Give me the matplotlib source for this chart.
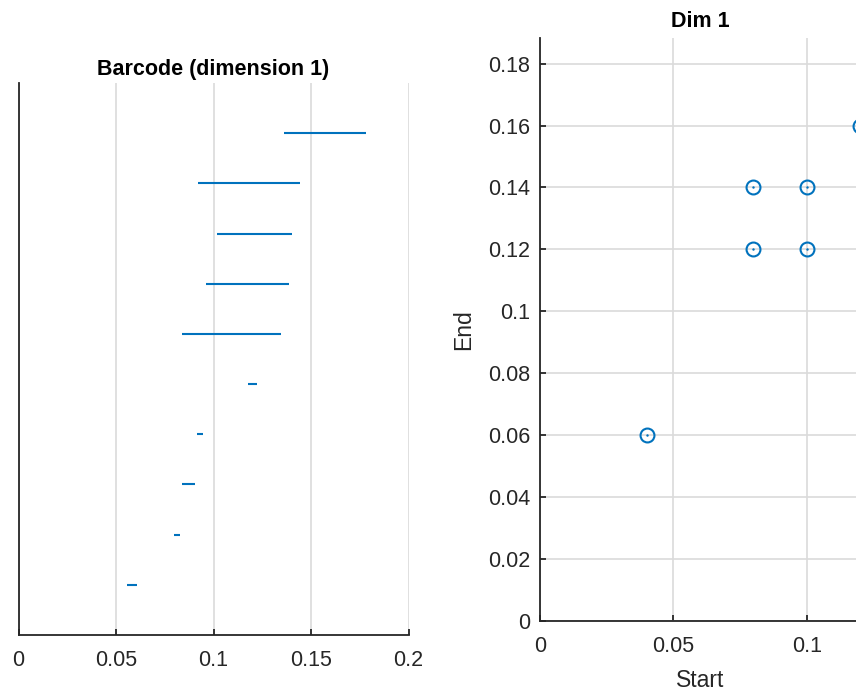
import matplotlib
matplotlib.use("Agg")
import matplotlib.pyplot as plt

plt.rcParams['font.family'] = ['Liberation Sans', 'DejaVu Sans']

# Barcode intervals (listed top to bottom)
bar_starts = [0.136, 0.092, 0.102, 0.096, 0.084, 0.1175, 0.0915, 0.084, 0.0797, 0.0556]
bar_ends   = [0.178, 0.1445, 0.1405, 0.1385, 0.1345, 0.1225, 0.0945, 0.0905, 0.0826, 0.0606]

# Persistence diagram points
pd_start = [0.04, 0.08, 0.08, 0.10, 0.10, 0.12]
pd_end   = [0.06, 0.12, 0.14, 0.12, 0.14, 0.16]

xticks_left = [0, 0.05, 0.1, 0.15, 0.2]
xtick_labels_left = ['0', '0.05', '0.1', '0.15', '0.2']
xticks_right = [0, 0.05, 0.1]
xtick_labels_right = ['0', '0.05', '0.1']
yticks_right = [0, 0.02, 0.04, 0.06, 0.08, 0.1, 0.12, 0.14, 0.16, 0.18]
ytick_labels_right = ['0', '0.02', '0.04', '0.06', '0.08', '0.1', '0.12', '0.14', '0.16', '0.18']

BLUE = '#0072BD'
AXC = '#262626'
GRID = '#dadada'
FS = 15.5

W, H = 856, 694
fig = plt.figure(figsize=(W / 100, H / 100), dpi=100)

# Left: barcode
ax1 = fig.add_axes([18.5 / W, (H - 635) / H, 390 / W, (635 - 83) / H])
n = len(bar_starts)
for i, (s, e) in enumerate(zip(bar_starts, bar_ends)):
    y = n - i
    ax1.plot([s, e], [y, y], color=BLUE, lw=1.5, solid_capstyle='butt')
ax1.set_xlim(0, 0.2)
ax1.set_ylim(0, n + 1)
ax1.set_xticks(xticks_left)
ax1.set_xticklabels(xtick_labels_left)
ax1.set_yticks([])
ax1.grid(axis='x', color=GRID, lw=1.2)
ax1.set_axisbelow(True)
for sp in ['top', 'right']:
    ax1.spines[sp].set_visible(False)
for sp in ['left', 'bottom']:
    ax1.spines[sp].set_color(AXC)
    ax1.spines[sp].set_linewidth(1.3)
ax1.tick_params(axis='x', direction='in', length=4, width=1.3, color=AXC,
                labelsize=FS, labelcolor=AXC, pad=11)
ax1.set_title('Barcode (dimension 1)', fontsize=FS, fontweight='bold', pad=6)

# Right: persistence diagram
ax2 = fig.add_axes([540 / W, (H - 620.7) / H, 320 / W, (620.7 - 38.3) / H])
ax2.plot(pd_start, pd_end, linestyle='none', marker='o', ms=10, mfc='none',
         mec=BLUE, mew=1.5, clip_on=False)
ax2.plot(pd_start, pd_end, linestyle='none', marker='.', ms=1.5, color=BLUE,
         clip_on=False)
ax2.set_xlim(0, 0.12)
ax2.set_ylim(0, 0.1882)
ax2.set_xticks(xticks_right)
ax2.set_xticklabels(xtick_labels_right)
ax2.set_yticks(yticks_right)
ax2.set_yticklabels(ytick_labels_right)
ax2.grid(True, color=GRID, lw=1.2)
ax2.set_axisbelow(True)
for sp in ['top', 'right']:
    ax2.spines[sp].set_visible(False)
for sp in ['left', 'bottom']:
    ax2.spines[sp].set_color(AXC)
    ax2.spines[sp].set_linewidth(1.3)
ax2.tick_params(axis='both', direction='in', length=4, width=1.3, color=AXC,
                labelsize=FS, labelcolor=AXC)
ax2.tick_params(axis='x', pad=11)
ax2.tick_params(axis='y', pad=7)
ax2.set_xlabel('Start', fontsize=FS + 1, color=AXC, labelpad=9)
ax2.set_ylabel('End', fontsize=FS + 1, color=AXC, labelpad=9)
ax2.set_title('Dim 1', fontsize=FS, fontweight='bold', pad=8)

fig.savefig('out.png', dpi=100)
